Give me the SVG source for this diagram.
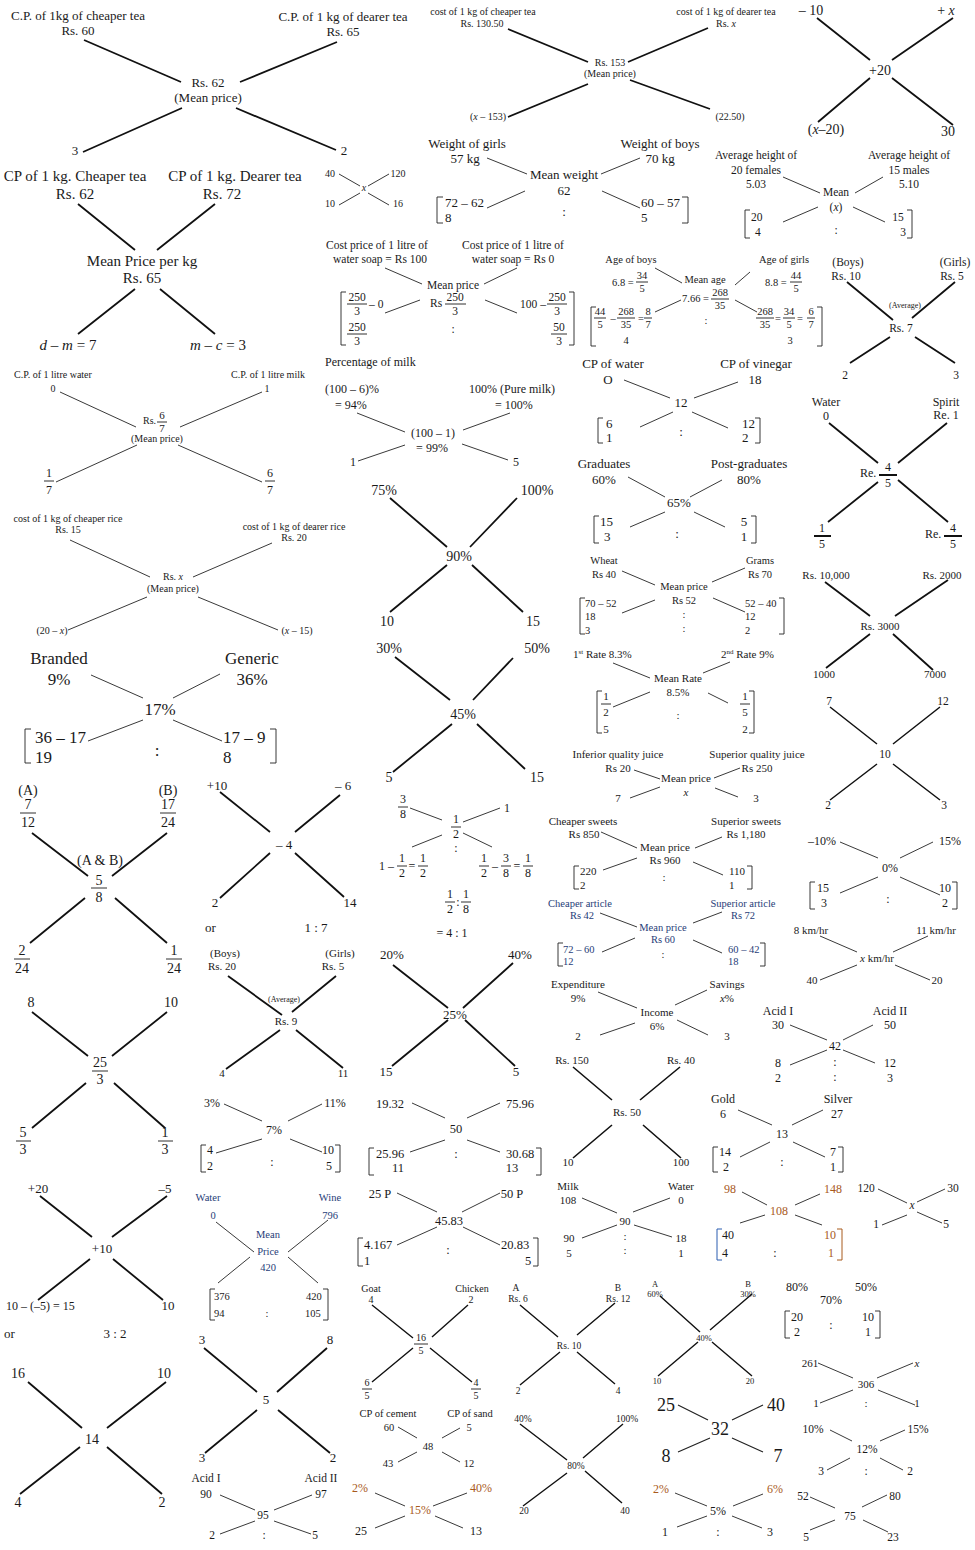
<svg xmlns="http://www.w3.org/2000/svg" width="975" height="1550" viewBox="0 0 975 1550">
<style>
text{font-family:"Liberation Serif","DejaVu Serif",serif;fill:#1a1a1a;text-anchor:middle}
.st{text-anchor:start}
.i{font-style:italic}
.k{stroke:#111;stroke-width:1.8;fill:none}
.n{stroke:#222;stroke-width:0.9;fill:none}
.fb{stroke:#1a1a1a;stroke-width:0.9}
.fk{stroke:#111;stroke-width:2}
.br{fill:none;stroke:#222;stroke-width:0.9}
.or{fill:#a85a1c}
.bl{fill:#1f3d78}
</style>
<rect width="975" height="1550" fill="#fff"/>

<!-- Column 1 -->
<g id="b1" font-size="13">
<text x="78" y="20">C.P. of 1kg of cheaper tea</text><text x="78" y="35">Rs. 60</text>
<text x="343" y="21">C.P. of 1 kg of dearer tea</text><text x="343" y="36">Rs. 65</text>
<text x="208" y="87">Rs. 62</text><text x="208" y="102">(Mean price)</text>
<text x="75" y="155">3</text><text x="344" y="155">2</text>
</g>
<g id="b2" font-size="15">
<text x="75" y="181">CP of 1 kg. Cheaper tea</text><text x="75" y="199">Rs. 62</text>
<text x="235" y="181">CP of 1 kg. Dearer tea</text><text x="222" y="199">Rs. 72</text>
<text x="142" y="266">Mean Price per kg</text><text x="142" y="283">Rs. 65</text>
<text x="68" y="350"><tspan class="i">d</tspan> – <tspan class="i">m</tspan> = 7</text>
<text x="218" y="350"><tspan class="i">m</tspan> – <tspan class="i">c</tspan> = 3</text>
</g>
<g id="b3" font-size="10">
<text x="53" y="378">C.P. of 1 litre water</text><text x="53" y="392">0</text>
<text x="268" y="378">C.P. of 1 litre milk</text><text x="267" y="392">1</text>
<text class="st" x="143" y="424">Rs.</text>
<text x="162" y="419" font-size="11">6</text><line class="fb" x1="157" y1="422" x2="167" y2="422"/><text x="162" y="432" font-size="11">7</text>
<text x="157" y="442">(Mean price)</text>
<text x="49" y="477" font-size="12">1</text><line class="fb" x1="44" y1="481" x2="54" y2="481"/><text x="49" y="494" font-size="12">7</text>
<text x="270" y="477" font-size="12">6</text><line class="fb" x1="265" y1="481" x2="275" y2="481"/><text x="270" y="494" font-size="12">7</text>
</g>
<g id="b4" font-size="10">
<text x="68" y="522">cost of 1 kg of cheaper rice</text><text x="68" y="533">Rs. 15</text>
<text x="294" y="530">cost of 1 kg of dearer rice</text><text x="294" y="541">Rs. 20</text>
<text x="173" y="580">Rs. <tspan class="i">x</tspan></text><text x="173" y="592">(Mean price)</text>
<text x="52" y="634">(20 – <tspan class="i">x</tspan>)</text><text x="297" y="634">(<tspan class="i">x</tspan> – 15)</text>
</g>
<g id="b5" font-size="17">
<text x="59" y="664">Branded</text><text x="59" y="685">9%</text>
<text x="252" y="664">Generic</text><text x="252" y="685">36%</text>
<text x="160" y="715">17%</text>
<path class="br" d="M31 729H25V763H31M270 729H276V763H270"/>
<text class="st" x="35" y="743">36 – 17</text><text class="st" x="35" y="763">19</text>
<text x="157" y="756">:</text>
<text class="st" x="223" y="743">17 – 9</text><text class="st" x="223" y="763">8</text>
</g>
<g id="b6" font-size="14">
<text x="28" y="795">(A)</text>
<text x="28" y="809">7</text><line class="fb" x1="20" y1="813" x2="36" y2="813"/><text x="28" y="827">12</text>
<text x="168" y="795">(B)</text>
<text x="168" y="809">17</text><line class="fb" x1="160" y1="813" x2="176" y2="813"/><text x="168" y="827">24</text>
<text x="100" y="865">(A &amp; B)</text>
<text x="99" y="885">5</text><line class="fb" x1="91" y1="888" x2="107" y2="888"/><text x="99" y="902">8</text>
<text x="22" y="955">2</text><line class="fb" x1="14" y1="959" x2="30" y2="959"/><text x="22" y="973">24</text>
<text x="174" y="955">1</text><line class="fb" x1="166" y1="959" x2="182" y2="959"/><text x="174" y="973">24</text>
</g>
<g id="b7" font-size="13">
<text x="217" y="790">+10</text><text x="343" y="790">– 6</text>
<text x="284" y="849">– 4</text>
<text x="215" y="907">2</text><text x="350" y="907">14</text>
<text class="st" x="205" y="932">or</text><text x="316" y="932">1 : 7</text>
</g>
<g id="b8" font-size="11">
<text x="225" y="957">(Boys)</text><text x="222" y="970">Rs. 20</text>
<text x="340" y="957">(Girls)</text><text x="333" y="970">Rs. 5</text>
<text x="284" y="1002" font-size="8">(Average)</text>
<text x="286" y="1025">Rs. 9</text>
<text x="222" y="1077">4</text><text x="343" y="1077">11</text>
</g>
<g id="b9" font-size="14">
<text x="31" y="1007">8</text><text x="171" y="1007">10</text>
<text x="100" y="1067">25</text><line class="fb" x1="92" y1="1071" x2="108" y2="1071"/><text x="100" y="1084">3</text>
<text x="23" y="1137">5</text><line class="fb" x1="16" y1="1141" x2="31" y2="1141"/><text x="23" y="1154">3</text>
<text x="165" y="1137">1</text><line class="fb" x1="158" y1="1141" x2="173" y2="1141"/><text x="165" y="1154">3</text>
</g>
<g id="b10" font-size="12">
<text x="212" y="1107">3%</text><text x="335" y="1107">11%</text><text x="274" y="1134">7%</text>
<path class="br" d="M206 1145H201V1172H206M335 1145H340V1172H335"/>
<text class="st" x="207" y="1154">4</text><text class="st" x="207" y="1170">2</text>
<text x="272" y="1166">:</text>
<text class="st" x="322" y="1154">10</text><text class="st" x="326" y="1170">5</text>
</g>
<g id="b11" font-size="13">
<text x="38" y="1193">+20</text><text x="165" y="1193">–5</text>
<text x="102" y="1253">+10</text>
<text class="st" x="6" y="1310" font-size="12">10 – (–5) = 15</text><text x="168" y="1310">10</text>
<text class="st" x="4" y="1338">or</text><text x="115" y="1338">3 : 2</text>
</g>
<g id="b12" font-size="14">
<text x="18" y="1378">16</text><text x="164" y="1378">10</text>
<text x="92" y="1444">14</text>
<text x="18" y="1507">4</text><text x="162" y="1507">2</text>
</g>
<g id="b13" font-size="10.5">
<text class="bl" x="208" y="1201">Water</text><text class="bl" x="213" y="1219">0</text>
<text class="bl" x="330" y="1201">Wine</text><text class="bl" x="330" y="1219">796</text>
<text class="bl" x="268" y="1238">Mean</text><text class="bl" x="268" y="1255">Price</text><text class="bl" x="268" y="1271">420</text>
<path class="br" d="M215 1289H210V1320H215M323 1289H328V1320H323"/>
<text class="st" x="214" y="1300">376</text><text class="st" x="214" y="1317">94</text>
<text x="267" y="1317">:</text>
<text class="st" x="306" y="1300">420</text><text class="st" x="305" y="1317">105</text>
</g>
<g id="b14" font-size="13">
<text x="202" y="1344">3</text><text x="330" y="1344">8</text>
<text x="266" y="1404">5</text>
<text x="202" y="1462">3</text><text x="333" y="1462">2</text>
</g>
<g id="b15" font-size="11.5">
<text x="206" y="1482">Acid I</text><text x="206" y="1498">90</text>
<text x="321" y="1482">Acid II</text><text x="321" y="1498">97</text>
<text x="263" y="1519">95</text>
<text x="212" y="1539">2</text><text x="264" y="1539">:</text><text x="315" y="1539">5</text>
</g>

<!-- Column 2 -->
<g id="m1" font-size="10">
<text x="483" y="15">cost of 1 kg of cheaper tea</text><text x="482" y="27">Rs. 130.50</text>
<text x="726" y="15">cost of 1 kg of dearer tea</text><text x="726" y="27">Rs. <tspan class="i">x</tspan></text>
<text x="610" y="66">Rs. 153</text><text x="610" y="77">(Mean price)</text>
<text x="488" y="120">(<tspan class="i">x</tspan> – 153)</text><text x="730" y="120">(22.50)</text>
</g>
<g id="m2" font-size="13">
<text x="467" y="148">Weight of girls</text><text x="465" y="163">57 kg</text>
<text x="660" y="148">Weight of boys</text><text x="660" y="163">70 kg</text>
<text x="564" y="179">Mean weight</text><text x="564" y="195">62</text>
<path class="br" d="M443 197H437V223H443M682 197H688V223H682"/>
<text class="st" x="445" y="207">72 – 62</text><text class="st" x="445" y="222">8</text>
<text x="564" y="216">:</text>
<text class="st" x="641" y="207">60 – 57</text><text class="st" x="641" y="222">5</text>
</g>
<g id="m3" font-size="10">
<text x="330" y="177">40</text><text x="398" y="177">120</text>
<text class="i" x="364" y="191">x</text>
<text x="330" y="207">10</text><text x="398" y="207">16</text>
</g>
<g id="m4" font-size="11.5">
<text x="377" y="249">Cost price of 1 litre of</text><text x="380" y="263">water soap = Rs 100</text>
<text x="513" y="249">Cost price of 1 litre of</text><text x="513" y="263">water soap = Rs 0</text>
<text x="453" y="289">Mean price</text>
<text class="st" x="430" y="307">Rs</text>
<text x="455" y="301">250</text><line class="fb" x1="445" y1="304" x2="466" y2="304"/><text x="455" y="315">3</text>
<path class="br" d="M346 292H341V345H346M569 292H574V345H569"/>
<text x="357" y="301">250</text><line class="fb" x1="347" y1="304" x2="367" y2="304"/><text x="357" y="315">3</text>
<text class="st" x="369" y="308">– 0</text>
<text x="357" y="331">250</text><line class="fb" x1="347" y1="334" x2="367" y2="334"/><text x="357" y="345">3</text>
<text x="453" y="333">:</text>
<text class="st" x="520" y="308">100 –</text>
<text x="557" y="301">250</text><line class="fb" x1="547" y1="304" x2="567" y2="304"/><text x="557" y="315">3</text>
<text x="559" y="331">50</text><line class="fb" x1="551" y1="334" x2="567" y2="334"/><text x="559" y="345">3</text>
</g>
<g id="m5" font-size="10.5">
<text x="631" y="263">Age of boys</text>
<text class="st" x="612" y="286">6.8 =</text>
<text x="642" y="279">34</text><line class="fb" x1="636" y1="282" x2="648" y2="282"/><text x="642" y="292">5</text>
<text x="705" y="283">Mean age</text>
<text class="st" x="682" y="302">7.66 =</text>
<text x="720" y="296">268</text><line class="fb" x1="711" y1="299" x2="729" y2="299"/><text x="720" y="309">35</text>
<text x="784" y="263">Age of girls</text>
<text class="st" x="765" y="286">8.8 =</text>
<text x="796" y="279">44</text><line class="fb" x1="790" y1="282" x2="802" y2="282"/><text x="796" y="292">5</text>
<path class="br" d="M596 307H591V346H596M817 307H822V346H817"/>
<text x="600" y="315">44</text><line class="fb" x1="594" y1="318" x2="606" y2="318"/><text x="600" y="328">5</text>
<text x="613" y="322">–</text>
<text x="626" y="315">268</text><line class="fb" x1="617" y1="318" x2="635" y2="318"/><text x="626" y="328">35</text>
<text x="641" y="322">=</text>
<text x="648" y="315">8</text><line class="fb" x1="644" y1="318" x2="652" y2="318"/><text x="648" y="328">7</text>
<text x="626" y="344">4</text>
<text x="706" y="324">:</text>
<text x="765" y="315">268</text><line class="fb" x1="756" y1="318" x2="774" y2="318"/><text x="765" y="328">35</text>
<text x="778" y="322">=</text>
<text x="789" y="315">34</text><line class="fb" x1="783" y1="318" x2="795" y2="318"/><text x="789" y="328">5</text>
<text x="800" y="322">=</text>
<text x="811" y="315">6</text><line class="fb" x1="807" y1="318" x2="815" y2="318"/><text x="811" y="328">7</text>
<text x="790" y="344">3</text>
</g>
<g id="m6" font-size="11.5">
<text x="756" y="159">Average height of</text><text x="756" y="174">20 females</text><text x="756" y="188">5.03</text>
<text x="909" y="159">Average height of</text><text x="909" y="174">15 males</text><text x="909" y="188">5.10</text>
<text x="836" y="196">Mean</text><text x="836" y="211">(<tspan class="i">x</tspan>)</text>
<path class="br" d="M750 210H745V238H750M907 210H912V238H907"/>
<text class="st" x="751" y="221">20</text><text class="st" x="755" y="236">4</text>
<text x="836" y="234">:</text>
<text x="898" y="221">15</text><text x="903" y="236">3</text>
</g>
<g id="m7" font-size="14">
<text x="811" y="15">– 10</text><text x="946" y="15">+ <tspan class="i">x</tspan></text>
<text x="880" y="75">+20</text>
<text x="826" y="134">(<tspan class="i">x</tspan>–20)</text><text x="948" y="136">30</text>
</g>
<g id="r0" font-size="11.5">
<text x="848" y="266">(Boys)</text><text x="846" y="280">Rs. 10</text>
<text x="955" y="266">(Girls)</text><text x="952" y="280">Rs. 5</text>
<text x="905" y="308" font-size="8">(Average)</text>
<text x="901" y="332">Rs. 7</text>
<text x="845" y="379">2</text><text x="956" y="379">3</text>
</g>
<g id="m8" font-size="12">
<text class="st" x="325" y="366">Percentage of milk</text>
<text class="st" x="325" y="393">(100 – 6)%</text><text class="st" x="335" y="409">= 94%</text>
<text class="st" x="469" y="393">100% (Pure milk)</text><text class="st" x="495" y="409">= 100%</text>
<text x="433" y="437">(100 – 1)</text><text x="432" y="452">= 99%</text>
<text x="353" y="466">1</text><text x="516" y="466">5</text>
</g>
<g id="m9" font-size="14">
<text x="384" y="495">75%</text><text x="537" y="495">100%</text>
<text x="459" y="561">90%</text>
<text x="387" y="626">10</text><text x="533" y="626">15</text>
</g>
<g id="m10" font-size="14">
<text x="389" y="653">30%</text><text x="537" y="653">50%</text>
<text x="463" y="719">45%</text>
<text x="389" y="782">5</text><text x="537" y="782">15</text>
</g>
<g id="m11" font-size="12">
<text x="403" y="803">3</text><line class="fb" x1="398" y1="807" x2="408" y2="807"/><text x="403" y="818">8</text>
<text x="507" y="812">1</text>
<text x="456" y="823">1</text><line class="fb" x1="451" y1="827" x2="461" y2="827"/><text x="456" y="838">2</text>
<text x="456" y="852">:</text>
<text class="st" x="379" y="870">1 –</text>
<text x="402" y="862">1</text><line class="fb" x1="397" y1="866" x2="407" y2="866"/><text x="402" y="877">2</text>
<text x="412" y="870">=</text>
<text x="423" y="862">1</text><line class="fb" x1="418" y1="866" x2="428" y2="866"/><text x="423" y="877">2</text>
<text x="484" y="862">1</text><line class="fb" x1="479" y1="866" x2="489" y2="866"/><text x="484" y="877">2</text>
<text x="495" y="870">–</text>
<text x="506" y="862">3</text><line class="fb" x1="501" y1="866" x2="511" y2="866"/><text x="506" y="877">8</text>
<text x="517" y="870">=</text>
<text x="528" y="862">1</text><line class="fb" x1="523" y1="866" x2="533" y2="866"/><text x="528" y="877">8</text>
<text x="450" y="898">1</text><line class="fb" x1="445" y1="902" x2="455" y2="902"/><text x="450" y="913">2</text>
<text x="458" y="906">:</text>
<text x="466" y="898">1</text><line class="fb" x1="461" y1="902" x2="471" y2="902"/><text x="466" y="913">8</text>
<text x="452" y="937">= 4 : 1</text>
</g>
<g id="m12" font-size="13">
<text x="392" y="959">20%</text><text x="520" y="959">40%</text>
<text x="455" y="1019">25%</text>
<text x="386" y="1076">15</text><text x="516" y="1076">5</text>
</g>
<g id="m13" font-size="12.5">
<text x="390" y="1108">19.32</text><text x="520" y="1108">75.96</text>
<text x="456" y="1133">50</text>
<path class="br" d="M374 1148H369V1175H374M536 1148H541V1175H536"/>
<text class="st" x="376" y="1158">25.96</text><text x="398" y="1172">11</text>
<text x="456" y="1158">:</text>
<text class="st" x="506" y="1158">30.68</text><text x="512" y="1172">13</text>
</g>
<g id="m14" font-size="12.5">
<text x="380" y="1198">25 P</text><text x="512" y="1198">50 P</text>
<text x="449" y="1225">45.83</text>
<path class="br" d="M363 1238H358V1266H363M533 1238H538V1266H533"/>
<text class="st" x="364" y="1249">4.167</text><text class="st" x="364" y="1265">1</text>
<text x="448" y="1254">:</text>
<text class="st" x="501" y="1249">20.83</text><text x="528" y="1265">5</text>
</g>
<g id="m15" font-size="10">
<text x="371" y="1292">Goat</text><text x="371" y="1303">4</text>
<text x="472" y="1292">Chicken</text><text x="471" y="1303">2</text>
<text x="421" y="1341">16</text><line class="fb" x1="414" y1="1344" x2="428" y2="1344"/><text x="421" y="1354">5</text>
<text x="367" y="1386">6</text><line class="fb" x1="362" y1="1389" x2="372" y2="1389"/><text x="367" y="1399">5</text>
<text x="476" y="1386">4</text><line class="fb" x1="471" y1="1389" x2="481" y2="1389"/><text x="476" y="1399">5</text>
</g>
<g id="m16" font-size="10.5">
<text x="388" y="1417">CP of cement</text><text x="389" y="1431">60</text>
<text x="470" y="1417">CP of sand</text><text x="469" y="1431">5</text>
<text x="428" y="1450">48</text>
<text x="388" y="1467">43</text><text x="469" y="1467">12</text>
</g>
<g id="m17" font-size="12">
<text class="or" x="360" y="1492">2%</text><text class="or" x="481" y="1492">40%</text>
<text class="or" x="420" y="1514">15%</text>
<text x="361" y="1535">25</text><text x="476" y="1535">13</text>
</g>

<!-- Column 3 -->
<g id="c1" font-size="13">
<text x="613" y="368">CP of water</text><text x="608" y="384">O</text>
<text x="756" y="368">CP of vinegar</text><text x="755" y="384">18</text>
<text x="681" y="407">12</text>
<path class="br" d="M603 418H598V443H603M755 418H760V443H755"/>
<text class="st" x="606" y="428">6</text><text class="st" x="606" y="442">1</text>
<text x="681" y="436">:</text>
<text class="st" x="742" y="428">12</text><text class="st" x="742" y="442">2</text>
</g>
<g id="c2" font-size="13">
<text x="604" y="468">Graduates</text><text x="604" y="484">60%</text>
<text x="749" y="468">Post-graduates</text><text x="749" y="484">80%</text>
<text x="679" y="507">65%</text>
<path class="br" d="M599 516H594V543H599M751 516H756V543H751"/>
<text class="st" x="600" y="526">15</text><text class="st" x="604" y="541">3</text>
<text x="677" y="538">:</text>
<text x="744" y="526">5</text><text x="744" y="541">1</text>
</g>
<g id="c3" font-size="10.5">
<text x="604" y="564">Wheat</text><text x="604" y="578">Rs 40</text>
<text x="760" y="564">Grams</text><text x="760" y="578">Rs 70</text>
<text x="684" y="590">Mean price</text><text x="684" y="604">Rs 52</text>
<path class="br" d="M585 598H580V634H585M779 598H784V634H779"/>
<text class="st" x="585" y="607">70 – 52</text><text class="st" x="585" y="620">18</text><text class="st" x="585" y="634">3</text>
<text x="684" y="618">:</text><text x="684" y="632">:</text>
<text class="st" x="745" y="607">52 – 40</text><text class="st" x="745" y="620">12</text><text class="st" x="745" y="634">2</text>
</g>
<g id="c4" font-size="11">
<text class="st" x="573" y="658">1<tspan font-size="7" dy="-4">st</tspan><tspan dy="4"> Rate 8.3%</tspan></text>
<text class="st" x="721" y="658">2<tspan font-size="7" dy="-4">nd</tspan><tspan dy="4"> Rate 9%</tspan></text>
<text x="678" y="682">Mean Rate</text><text x="678" y="696">8.5%</text>
<path class="br" d="M602 691H597V733H602M749 691H754V733H749"/>
<text x="606" y="700">1</text><line class="fb" x1="601" y1="704" x2="611" y2="704"/><text x="606" y="716">2</text>
<text x="606" y="733">5</text>
<text x="678" y="719">:</text>
<text x="745" y="700">1</text><line class="fb" x1="740" y1="704" x2="750" y2="704"/><text x="745" y="716">5</text>
<text x="745" y="733">2</text>
</g>
<g id="c5" font-size="11">
<text x="618" y="758">Inferior quality juice</text><text x="618" y="772">Rs 20</text>
<text x="757" y="758">Superior quality juice</text><text x="757" y="772">Rs 250</text>
<text x="686" y="782">Mean price</text><text class="i" x="686" y="796">x</text>
<text x="618" y="802">7</text><text x="756" y="802">3</text>
</g>
<g id="c6" font-size="11">
<text x="583" y="825">Cheaper sweets</text><text x="584" y="838">Rs 850</text>
<text x="746" y="825">Superior sweets</text><text x="746" y="838">Rs 1,180</text>
<text x="665" y="851">Mean price</text><text x="665" y="864">Rs 960</text>
<path class="br" d="M579 866H574V889H579M747 866H752V889H747"/>
<text class="st" x="580" y="875">220</text><text class="st" x="580" y="889">2</text>
<text x="664" y="881">:</text>
<text class="st" x="729" y="875">110</text><text class="st" x="729" y="889">1</text>
</g>
<g id="c7" font-size="10.5">
<text class="bl" x="580" y="907">Cheaper article</text><text class="bl" x="582" y="919">Rs 42</text>
<text class="bl" x="743" y="907">Superior article</text><text class="bl" x="743" y="919">Rs 72</text>
<text class="bl" x="663" y="931">Mean price</text><text class="bl" x="663" y="943">Rs 60</text>
<path class="br" d="M563 943H558V966H563M760 943H765V966H760"/>
<text class="st bl" x="563" y="953">72 – 60</text><text class="st bl" x="563" y="965">12</text>
<text x="663" y="958">:</text>
<text class="st bl" x="728" y="953">60 – 42</text><text class="st bl" x="728" y="965">18</text>
</g>
<g id="c8" font-size="11">
<text x="578" y="988">Expenditure</text><text x="578" y="1002">9%</text>
<text x="727" y="988">Savings</text><text x="727" y="1002"><tspan class="i">x</tspan>%</text>
<text x="657" y="1016">Income</text><text x="657" y="1030">6%</text>
<text x="578" y="1040">2</text><text x="727" y="1040">3</text>
</g>
<g id="c9" font-size="11">
<text x="572" y="1064">Rs. 150</text><text x="681" y="1064">Rs. 40</text>
<text x="627" y="1116">Rs. 50</text>
<text x="568" y="1166">10</text><text x="681" y="1166">100</text>
</g>
<g id="c10" font-size="11">
<text x="568" y="1190">Milk</text><text x="568" y="1204">108</text>
<text x="681" y="1190">Water</text><text x="681" y="1204">0</text>
<text x="625" y="1225">90</text>
<text x="569" y="1242">90</text><text x="569" y="1257">5</text>
<text x="625" y="1240">:</text><text x="625" y="1254">:</text>
<text x="681" y="1242">18</text><text x="681" y="1257">1</text>
</g>
<g id="c11" font-size="9.5">
<text x="516" y="1291">A</text><text x="518" y="1302">Rs. 6</text>
<text x="618" y="1291">B</text><text x="618" y="1302">Rs. 12</text>
<text x="569" y="1349">Rs. 10</text>
<text x="518" y="1394">2</text><text x="618" y="1394">4</text>
</g>
<g id="c12" font-size="9.5">
<text x="523" y="1422">40%</text><text x="627" y="1422">100%</text>
<text x="576" y="1469">80%</text>
<text x="524" y="1514">20</text><text x="625" y="1514">40</text>
</g>
<g id="c13" font-size="8.5">
<text x="655" y="1287">A</text><text x="655" y="1297">60%</text>
<text x="748" y="1287">B</text><text x="748" y="1297">30%</text>
<text x="704" y="1341">40%</text>
<text x="657" y="1384">10</text><text x="750" y="1384">20</text>
</g>
<g id="c14" font-size="18">
<text x="666" y="1411">25</text><text x="776" y="1411">40</text>
<text x="720" y="1435">32</text>
<text x="666" y="1462">8</text><text x="778" y="1462">7</text>
</g>
<g id="c15" font-size="12">
<text class="or" x="661" y="1493">2%</text><text class="or" x="775" y="1493">6%</text>
<text x="718" y="1515">5%</text>
<text x="665" y="1536">1</text><text x="718" y="1536">:</text><text x="770" y="1536">3</text>
</g>

<!-- Column 4 -->
<g id="r1" font-size="12">
<text x="826" y="406">Water</text><text x="826" y="420">0</text>
<text x="946" y="406">Spirit</text><text x="946" y="419">Re. 1</text>
<text class="st" x="860" y="477">Re.</text>
<text x="888" y="471">4</text><line class="fk" x1="879" y1="475" x2="897" y2="475"/><text x="888" y="487">5</text>
<text x="822" y="532">1</text><line class="fk" x1="814" y1="536" x2="831" y2="536"/><text x="822" y="548">5</text>
<text class="st" x="925" y="538">Re.</text>
<text x="953" y="532">4</text><line class="fk" x1="944" y1="536" x2="962" y2="536"/><text x="953" y="548">5</text>
</g>
<g id="r2" font-size="11">
<text x="826" y="579">Rs. 10,000</text><text x="942" y="579">Rs. 2000</text>
<text x="880" y="630">Rs. 3000</text>
<text x="824" y="678">1000</text><text x="935" y="678">7000</text>
</g>
<g id="r3" font-size="11.5">
<text x="829" y="705">7</text><text x="943" y="705">12</text>
<text x="885" y="758">10</text>
<text x="828" y="809">2</text><text x="944" y="809">3</text>
</g>
<g id="r4" font-size="12">
<text x="822" y="845">–10%</text><text x="950" y="845">15%</text>
<text x="890" y="872">0%</text>
<path class="br" d="M815 882H810V909H815M952 882H957V909H952"/>
<text class="st" x="817" y="892">15</text><text class="st" x="821" y="907">3</text>
<text x="888" y="903">:</text>
<text x="945" y="892">10</text><text x="945" y="907">2</text>
</g>
<g id="r5" font-size="11">
<text x="811" y="934">8 km/hr</text><text x="936" y="934">11 km/hr</text>
<text x="877" y="962"><tspan class="i">x</tspan> km/hr</text>
<text x="812" y="984">40</text><text x="937" y="984">20</text>
</g>
<g id="r6" font-size="12">
<text x="778" y="1015">Acid I</text><text x="778" y="1029">30</text>
<text x="890" y="1015">Acid II</text><text x="890" y="1029">50</text>
<text x="835" y="1050">42</text>
<text x="778" y="1067">8</text><text x="778" y="1082">2</text>
<text x="835" y="1066">:</text><text x="835" y="1081">:</text>
<text x="890" y="1067">12</text><text x="890" y="1082">3</text>
</g>
<g id="r7" font-size="12">
<text x="723" y="1103">Gold</text><text x="723" y="1118">6</text>
<text x="838" y="1103">Silver</text><text x="837" y="1118">27</text>
<text x="782" y="1138">13</text>
<path class="br" d="M718 1147H713V1172H718M838 1147H843V1172H838"/>
<text class="st" x="719" y="1156">14</text><text class="st" x="723" y="1171">2</text>
<text x="782" y="1166">:</text>
<text x="833" y="1156">7</text><text x="833" y="1171">1</text>
</g>
<g id="r8" font-size="12">
<text class="or" x="730" y="1193">98</text><text class="or" x="833" y="1193">148</text>
<text class="or" x="779" y="1215">108</text>
<path d="M722 1229H717V1260H722" fill="none" stroke="#2a5db0" stroke-width="1"/>
<path d="M837 1229H842V1260H837" fill="none" stroke="#a85a1c" stroke-width="1"/>
<text class="st" x="722" y="1239">40</text><text class="st" x="722" y="1257">4</text>
<text x="775" y="1257">:</text>
<text class="or" x="830" y="1239">10</text><text class="or" x="831" y="1257">1</text>
</g>
<g id="r9" font-size="11.5">
<text x="866" y="1192">120</text><text x="953" y="1192">30</text>
<text class="i" x="912" y="1209">x</text>
<text x="876" y="1228">1</text><text x="946" y="1228">5</text>
</g>
<g id="r10" font-size="12">
<text x="797" y="1291">80%</text><text x="866" y="1291">50%</text>
<text x="831" y="1304">70%</text>
<path class="br" d="M790 1311H785V1338H790M875 1311H880V1338H875"/>
<text class="st" x="791" y="1321">20</text><text class="st" x="794" y="1336">2</text>
<text x="831" y="1329">:</text>
<text class="st" x="862" y="1321">10</text><text class="st" x="865" y="1336">1</text>
</g>
<g id="r11" font-size="11">
<text x="810" y="1367">261</text><text class="i" x="917" y="1367">x</text>
<text x="866" y="1388">306</text>
<text x="816" y="1407">1</text><text x="866" y="1407">:</text><text x="917" y="1407">1</text>
</g>
<g id="r12" font-size="11.5">
<text x="813" y="1433">10%</text><text x="918" y="1433">15%</text>
<text x="867" y="1453">12%</text>
<text x="821" y="1475">3</text><text x="866" y="1475">:</text><text x="910" y="1475">2</text>
</g>
<g id="r13" font-size="11.5">
<text x="803" y="1500">52</text><text x="895" y="1500">80</text>
<text x="850" y="1520">75</text>
<text x="806" y="1541">5</text><text x="893" y="1541">23</text>
</g>

<g id="connectors">
<path class="k" d="M84 40L181 82M240 82L337 42M83 152L182 108M236 108L336 150"/>
<path class="k" d="M78 204L135 250M215 204L157 250M135 289L78 334M160 289L215 334"/>
<path class="n" d="M60 392L136 427M180 427L262 392M56 482L137 445M178 445L262 482"/>
<path class="n" d="M70 540L150 577M193 577L272 543M68 630L147 597M198 597L278 630"/>
<path class="n" d="M91 675L143 698M173 698L220 674M88 741L143 720M173 720L222 741"/>
<path class="k" d="M32 833L88 876M167 833L112 876M85 898L30 943M115 898L167 943"/>
<path class="k" d="M220 792L270 832M340 795L295 832M270 853L220 898M295 853L344 897"/>
<path class="k" d="M228 976L282 1015M336 976L292 1012M280 1030L226 1069M296 1030L343 1068"/>
<path class="k" d="M32 1012L88 1056M167 1012L112 1056M86 1083L32 1128M114 1083L165 1128"/>
<path class="n" d="M224 1104L262 1121M288 1121L322 1104M216 1153L262 1139M290 1139L322 1152"/>
<path class="k" d="M40 1196L92 1237M167 1196L112 1237M90 1259L38 1300M113 1259L163 1300"/>
<path class="k" d="M28 1382L82 1428M166 1382L107 1428M80 1447L20 1494M107 1447L162 1494"/>
<path class="n" d="M216 1222L254 1252M328 1220L288 1252M250 1257L218 1283M288 1257L318 1283"/>
<path class="k" d="M204 1348L257 1392M327 1348L277 1392M257 1410L205 1453M278 1410L330 1453"/>
<path class="n" d="M220 1495L255 1510M274 1510L312 1495M220 1534L255 1521M274 1521L311 1534"/>
<path class="k" d="M508 29L588 62M628 62L708 28M508 117L588 84M630 80L710 109"/>
<path class="n" d="M487 158L527 174M601 174L640 158M487 208L525 191M602 191L640 208"/>
<path class="n" d="M339 174L360 186M368 186L389 174M339 205L360 193M368 193L389 205"/>
<path class="n" d="M385 268L422 284M484 284L517 268M385 313L420 300M485 300L517 313"/>
<path class="n" d="M655 268L682 283M735 285L750 272M655 312L681 300M735 300L757 312"/>
<path class="n" d="M783 177L820 193M855 193L883 177M783 222L818 207M853 207L885 222"/>
<path class="k" d="M817 18L870 60M953 18L892 60M870 78L818 122M892 78L953 125"/>
<path class="k" d="M847 282L893 320M955 282L912 318M890 337L850 363M915 337L955 363"/>
<path class="n" d="M357 413L405 432M463 430L510 413M358 461L405 445M462 444L508 460"/>
<path class="k" d="M390 498L447 547M517 498L470 547M447 565L390 612M472 565L523 612"/>
<path class="k" d="M395 657L450 700M513 658L473 700M452 724L393 772M477 724L525 769"/>
<path class="n" d="M410 808L442 820M463 822L500 808M412 847L442 835M463 833L492 847"/>
<path class="k" d="M393 965L448 1008M513 963L463 1008M448 1020L392 1066M465 1020L515 1066"/>
<path class="n" d="M412 1103L445 1118M467 1118L500 1103M410 1152L445 1140M467 1140L500 1152"/>
<path class="n" d="M397 1193L437 1212M462 1212L500 1193M397 1245L437 1227M463 1227L500 1245"/>
<path class="k" d="M372 1305L413 1338M468 1305L432 1337M413 1348L372 1382M430 1348L472 1382" style="stroke-width:1.4"/>
<path class="n" d="M398 1427L417 1438M442 1438L460 1428M398 1462L417 1452M442 1452L460 1462"/>
<path class="n" d="M375 1493L405 1506M433 1506L467 1493M375 1528L405 1516M435 1516L463 1528"/>
<path class="n" d="M624 380L670 398M694 398L738 382M640 427L673 412M692 412L728 428"/>
<path class="n" d="M628 477L665 497M690 497L722 480M630 527L665 512M694 512L725 527"/>
<path class="n" d="M622 571L655 585M712 582L745 568M622 613L655 600M713 598L745 612"/>
<path class="n" d="M613 663L650 678M703 673L730 662M613 707L650 692M708 693L728 703"/>
<path class="n" d="M634 770L660 779M714 778L740 768M630 798L660 787M715 788L738 797"/>
<path class="n" d="M601 832L637 848M695 848L722 837M603 870L637 858M693 862L723 875"/>
<path class="n" d="M600 913L637 927M693 923L722 912M602 952L635 938M693 940L722 953"/>
<path class="n" d="M598 992L637 1008M675 1005L707 990M600 1035L635 1023M677 1020L708 1035"/>
<path class="k" d="M573 1067L612 1100M680 1067L640 1100M612 1125L573 1158M643 1125L681 1158" style="stroke-width:1.6"/>
<path class="n" d="M582 1198L617 1213M633 1212L670 1198M582 1238L617 1225M634 1225L672 1237"/>
<path class="k" d="M520 1305L558 1337M615 1303L577 1335M560 1352L520 1385M577 1352L615 1384" style="stroke-width:1.4"/>
<path class="k" d="M520 1424L567 1460M623 1424L583 1458M567 1473L523 1506M585 1471L622 1503" style="stroke-width:1.4"/>
<path class="k" d="M660 1296L700 1332M752 1294L710 1330M698 1342L658 1376M712 1342L752 1376" style="stroke-width:1.4"/>
<path class="n" d="M678 1405L708 1420M732 1420L763 1405M678 1452L710 1438M732 1438L763 1452" style="stroke-width:1.2"/>
<path class="n" d="M675 1493L707 1506M733 1506L763 1494M677 1527L707 1516M732 1516L762 1528"/>
<path class="k" d="M829 423L878 463M947 423L898 463M878 482L828 522M898 480L948 522"/>
<path class="k" d="M825 582L870 616M948 580L895 616M870 634L826 668M893 634L933 670"/>
<path class="k" d="M830 707L877 744M940 707L893 744M877 764L830 800M893 764L940 800" style="stroke-width:1.5"/>
<path class="n" d="M840 842L878 858M900 858L933 842M840 893L878 877M900 877L940 895"/>
<path class="n" d="M820 936L857 952M893 952L928 936M820 980L857 965M895 965L930 980"/>
<path class="n" d="M790 1025L827 1040M843 1040L873 1025M790 1065L827 1050M843 1050L875 1063"/>
<path class="n" d="M738 1110L772 1125M792 1125L823 1110M740 1157L770 1142M793 1142L825 1157"/>
<path class="n" d="M742 1192L767 1205M795 1205L820 1194M740 1223L765 1215M795 1215L822 1225"/>
<path class="n" d="M878 1189L907 1203M917 1202L945 1189M882 1225L907 1215M917 1212L942 1223"/>
<path class="n" d="M818 1363L853 1378M877 1378L913 1363M820 1403L853 1390M878 1390L915 1405"/>
<path class="n" d="M830 1430L852 1441M880 1441L905 1430M827 1470L850 1458M880 1458L903 1470"/>
<path class="n" d="M810 1497L835 1508M862 1507L887 1495M810 1530L835 1520M863 1520L888 1532"/>
</g>
</svg>
